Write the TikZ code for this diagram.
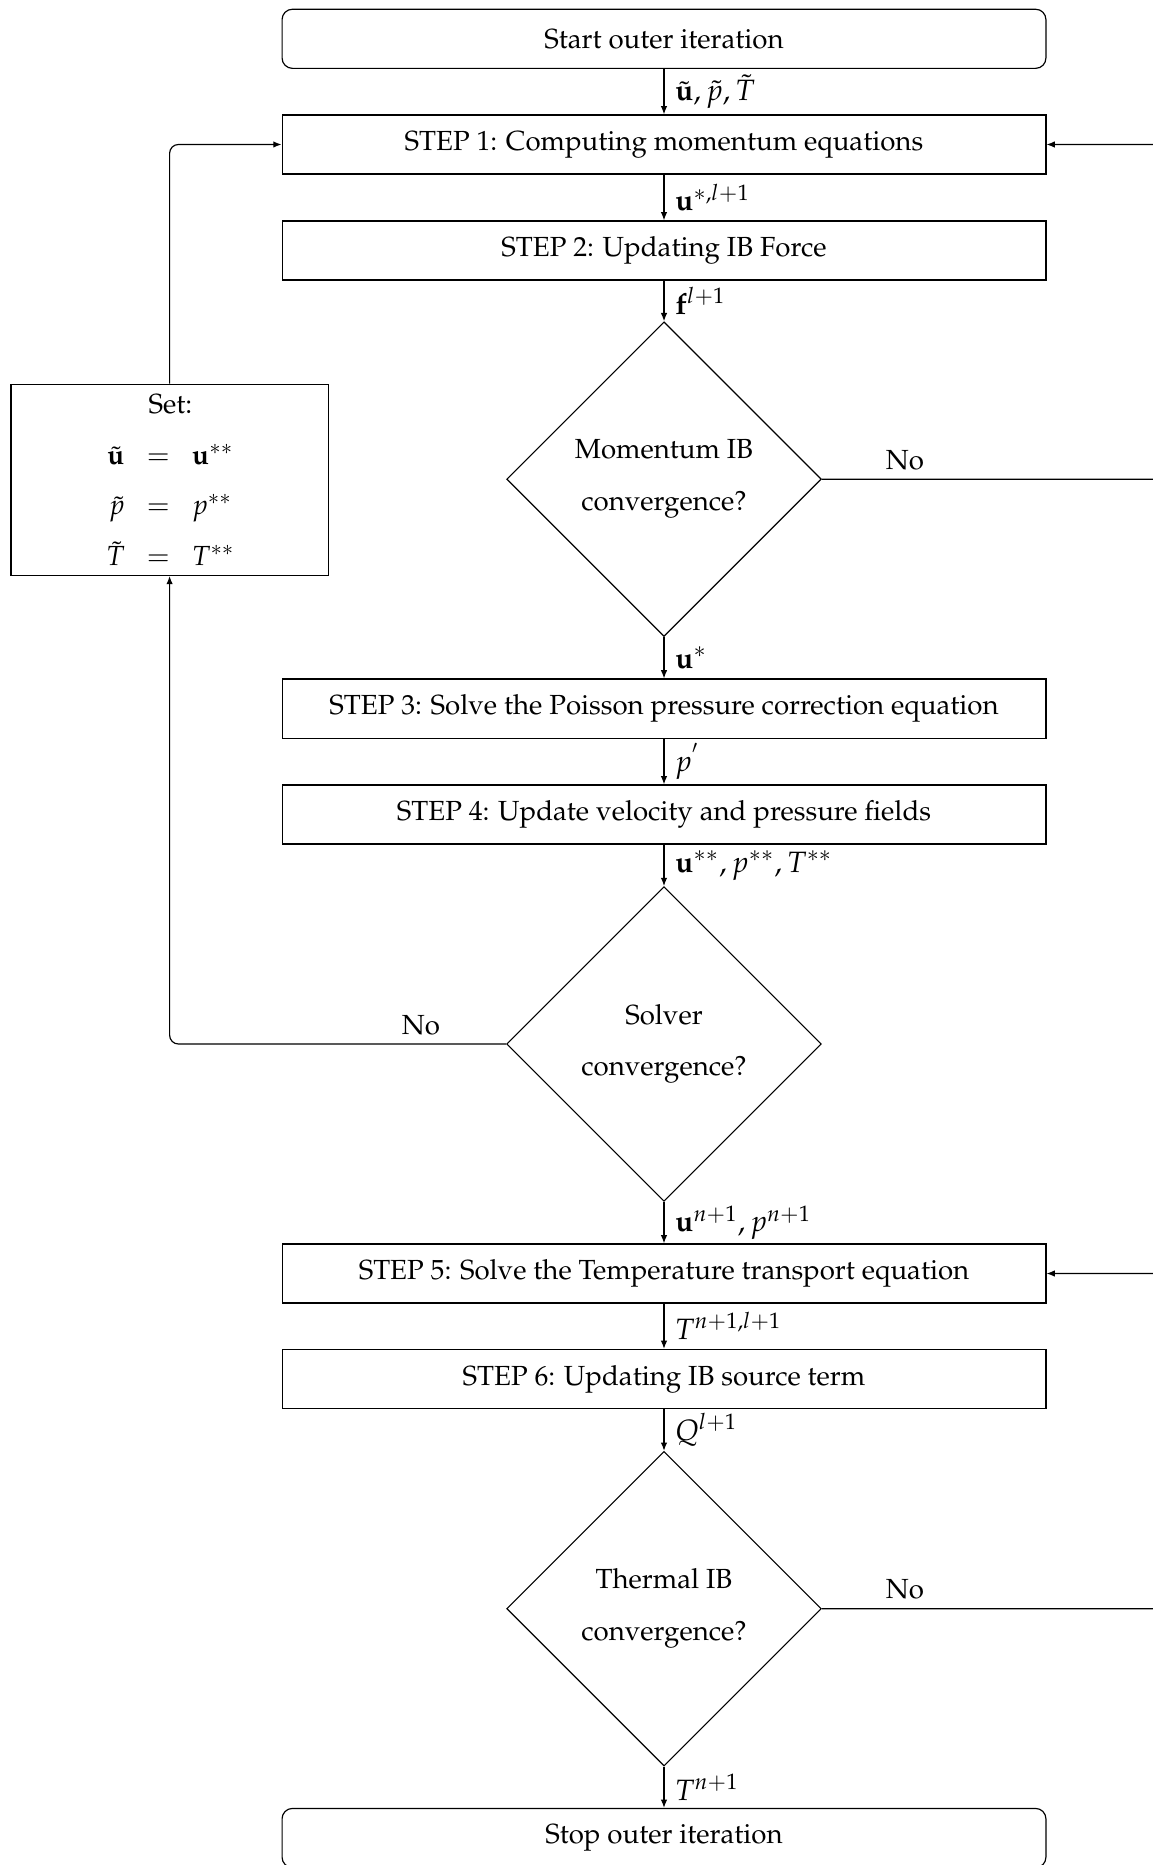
\documentclass[tikz,border=0pt]{standalone}
\usepackage[T1]{fontenc}
\usepackage{mathpazo}
\usetikzlibrary{shapes.geometric,arrows.meta,calc}
\begin{document}
\begin{tikzpicture}[x=0.34pt,y=-0.34pt,
  txt/.style={font=\fontsize{9.4}{11.3}\selectfont},
  box/.style={draw, rectangle, txt, minimum width=259.7pt, minimum height=20.1pt, inner sep=0pt},
  term/.style={box, rounded corners=3.5pt},
  decision/.style={draw, diamond, txt, minimum width=107pt, minimum height=107pt, inner sep=0pt, align=center},
  setbox/.style={draw, rectangle, minimum width=107.9pt, minimum height=65pt, inner sep=0pt},
  flow/.style={-{Latex[length=2.8pt,width=2.2pt]}},
  lbl/.style={anchor=west, inner sep=0pt, xshift=3.5pt},
  answer/.style={txt, inner sep=0pt}
]
\useasboundingbox (0,0) rectangle (1152,1865);

% main column
\node[term] (start) at (664,38.8) {Start outer iteration};
\node[box]  (step1) at (664,144.5) {STEP 1: Computing momentum equations};
\node[box]  (step2) at (664,250.5) {STEP 2: Updating IB Force};
\node[decision] (d1) at (664,479.2) {Momentum IB\\[6.3pt]convergence?};
\node[box]  (step3) at (664,708.6) {STEP 3: Solve the Poisson pressure correction equation};
\node[box]  (step4) at (664,814.5) {STEP 4: Update velocity and pressure fields};
\node[decision] (d2) at (664,1044) {Solver\\[6.3pt]convergence?};
\node[box]  (step5) at (664,1273.5) {STEP 5: Solve the Temperature transport equation};
\node[box]  (step6) at (664,1379) {STEP 6: Updating IB source term};
\node[decision] (d3) at (664,1608.7) {Thermal IB\\[6.3pt]convergence?};
\node[term] (stop) at (664,1838) {Stop outer iteration};

% reset box on the left and its assignments
\node[setbox] (set) at (169.6,479.8) {};
\node[txt, inner sep=0pt] (setlines) at (170.5,483) {$\begin{array}{r@{\hspace{7.5pt}}c@{\hspace{7.5pt}}l}
  \multicolumn{3}{c}{\mbox{Set:}}\\[5.8pt]
  \tilde{\mathbf{u}} & = & \mathbf{u}^{**}\\[5.8pt]
  \tilde{p} & = & p^{**}\\[5.8pt]
  \tilde{T} & = & T^{**}
\end{array}$};

% downward flow with the passed quantities
\draw[flow] (start) -- (step1) node[lbl, midway] {$\tilde{\mathbf{u}}, \tilde{p}, \tilde{T}$};
\draw[flow] (step1) -- (step2) node[lbl, midway] {$\mathbf{u}^{*,l+1}$};
\draw[flow] (step2) -- (d1) node[lbl, midway] {$\mathbf{f}^{l+1}$};
\draw[flow] (d1) -- (step3) node[lbl, midway] {$\mathbf{u}^{*}$};
\draw[flow] (step3) -- (step4) node[lbl, midway] {$p^{'}$};
\draw[flow] (step4) -- (d2) node[lbl, midway] {$\mathbf{u}^{**}, p^{**}, T^{**}$};
\draw[flow] (d2) -- (step5) node[lbl, midway] {$\mathbf{u}^{n+1}, p^{n+1}$};
\draw[flow] (step5) -- (step6) node[lbl, midway] {$T^{n+1,l+1}$};
\draw[flow] (step6) -- (d3) node[lbl, midway] {$Q^{l+1}$};
\draw[flow] (d3) -- (stop) node[lbl, midway] {$T^{n+1}$};

% loops back
\coordinate (rloop) at (1190,0);
\draw[flow, rounded corners=3pt] (d1.east) -- (d1.east -| rloop) |- (step1.east);
\draw[flow, rounded corners=3pt] (d3.east) -- (d3.east -| rloop) |- (step5.east);
\draw[flow, rounded corners=3pt] (d2.west) -| (set.south);
\draw[flow, rounded corners=3pt] (set.north) |- (step1.west);

\node[answer] (no1) at (905,460) {No};
\node[answer] (no2) at (421,1025) {No};
\node[answer] (no3) at (905,1589.5) {No};
\end{tikzpicture}
\end{document}
